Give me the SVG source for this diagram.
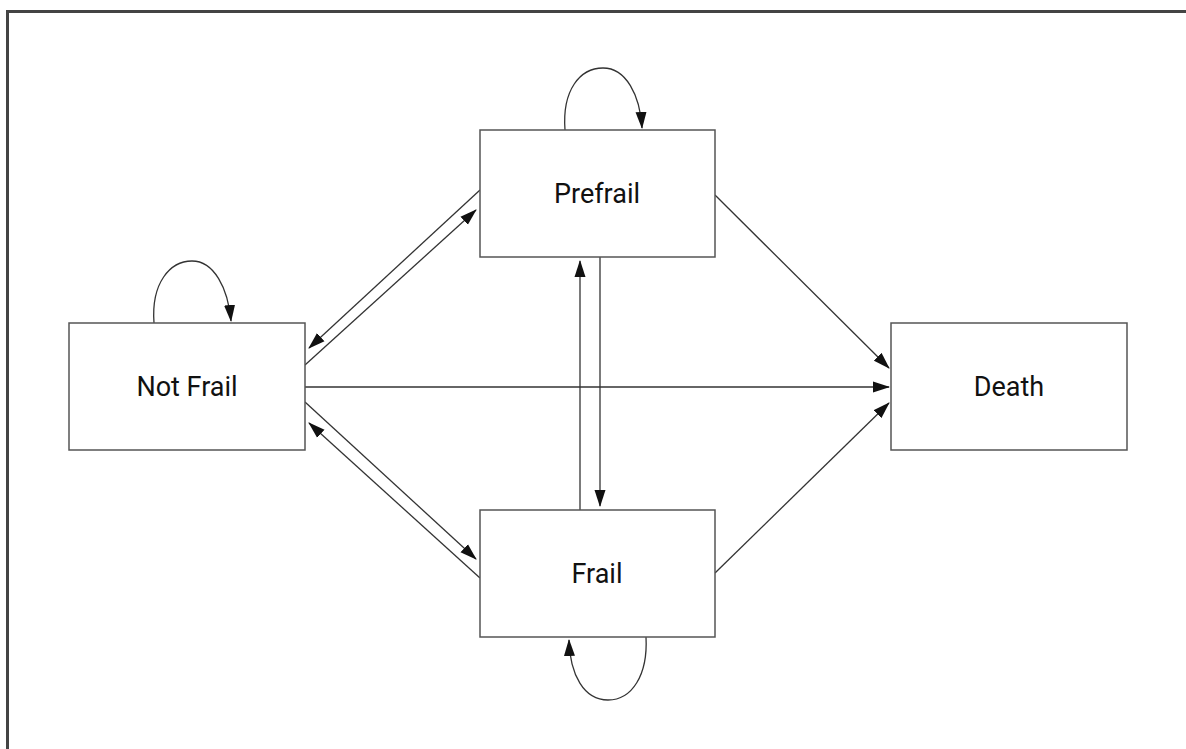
<svg xmlns="http://www.w3.org/2000/svg" width="1186" height="749" viewBox="0 0 1186 749">
<defs>
<style>
.box{fill:#fff;stroke:#555;stroke-width:1.5}
.lbl{font-family:Roboto,"Liberation Sans",sans-serif;font-size:27px;font-weight:400;fill:#111;text-anchor:middle}
.c{fill:none;stroke:#333;stroke-width:1.3}
</style>
<marker id="ah" markerUnits="userSpaceOnUse" markerWidth="17" markerHeight="12" refX="16" refY="6" orient="auto">
<path d="M0,0.5 L17,6 L0,11.5 Z" fill="#111"/>
</marker>
</defs>
<rect width="1186" height="749" fill="#fff"/>
<path d="M7.5,749 V11.5 H1186" fill="none" stroke="#444" stroke-width="3"/>
<g id="connectors">
<path class="c" d="M715,195 L889,368" marker-end="url(#ah)"/>
<path class="c" d="M715,573 L889,403" marker-end="url(#ah)"/>
<path class="c" d="M305,387 L889,387" marker-end="url(#ah)"/>
<path class="c" d="M580,510 L580,261" marker-end="url(#ah)"/>
<path class="c" d="M600,257 L600,506" marker-end="url(#ah)"/>
<path class="c" d="M480,190 L309,348" marker-end="url(#ah)"/>
<path class="c" d="M305,365 L476,210" marker-end="url(#ah)"/>
<path class="c" d="M305,402 L476,559" marker-end="url(#ah)"/>
<path class="c" d="M480,578 L309,423" marker-end="url(#ah)"/>
<path class="c" d="M565,130 C562,90 580,68 603,68 C626,68 640,95 642,128" marker-end="url(#ah)"/>
<path class="c" d="M154,323 C151,283 170,261 192,261 C214,261 228,288 231,321" marker-end="url(#ah)"/>
<path class="c" d="M646,637 C648,675 632,700 608,700 C584,700 570,675 569,640" marker-end="url(#ah)"/>
</g>
<g id="notfrail"><rect class="box" x="69" y="323" width="236" height="127"/><text class="lbl" x="187" y="396">Not Frail</text></g>
<g id="prefrail"><rect class="box" x="480" y="130" width="235" height="127"/><text class="lbl" x="597" y="203">Prefrail</text></g>
<g id="frail"><rect class="box" x="480" y="510" width="235" height="127"/><text class="lbl" x="597" y="583">Frail</text></g>
<g id="death"><rect class="box" x="891" y="323" width="236" height="127"/><text class="lbl" x="1009" y="396">Death</text></g>
</svg>
